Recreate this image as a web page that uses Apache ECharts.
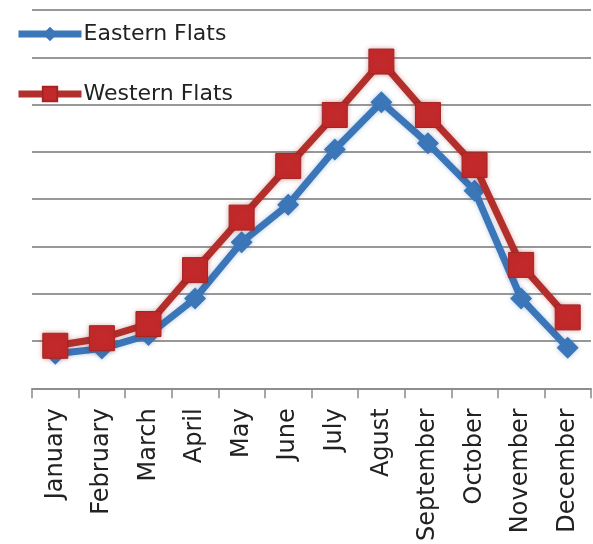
<!DOCTYPE html>
<html>
<head>
<meta charset="utf-8">
<title>Eastern and Western Flats</title>
<script src="https://cdn.jsdelivr.net/npm/echarts@6/dist/echarts.min.js"></script>
<style>
  html, body { margin: 0; padding: 0; background: #ffffff; }
  #chart { width: 593px; height: 544px; }
</style>
</head>
<body>
<div id="chart"></div>
<script>
// Monthly readings for the two flats
const months = ['January', 'February', 'March', 'April', 'May', 'June', 'July',
                'Agust', 'September', 'October', 'November', 'December'];
const easternFlats = [7.3, 8.4, 11.3, 19, 30.9, 38.8, 50.5, 60.5, 51.8, 41.8, 19, 8.6];
const westernFlats = [9, 10.6, 13.6, 25, 36.1, 47, 57.8, 69.1, 57.8, 47.2, 26.1, 15];

const FONT = 'DejaVu Sans';
const BLUE = '#3b76b8';
const RED = '#b32f2c';

const chart = echarts.init(document.getElementById('chart'), null, { renderer: 'canvas' });

chart.setOption({
  backgroundColor: '#ffffff',
  animation: false,
  grid: { left: 32, right: 2, top: 10, bottom: 151, containLabel: false },
  legend: {
    orient: 'vertical',
    left: 15,
    top: 22,
    padding: 0,
    itemWidth: 63,
    itemHeight: 18,
    itemGap: 36,
    lineStyle: { width: 7 },
    textStyle: { fontFamily: FONT, fontSize: 22, color: '#222222', lineHeight: 24, padding: [0, 0, 0, -3] },
    data: ['Eastern Flats', 'Western Flats']
  },
  xAxis: {
    type: 'category',
    data: months,
    boundaryGap: true,
    axisLine: { show: true, lineStyle: { color: '#8a8a8a', width: 1.5 } },
    axisTick: { show: true, length: 10, lineStyle: { color: '#8a8a8a', width: 1.5 } },
    axisLabel: {
      rotate: 90,
      margin: 20,
      interval: 0,
      fontFamily: FONT,
      fontSize: 24,
      color: '#222222'
    },
    splitLine: { show: false }
  },
  yAxis: {
    type: 'value',
    min: 0,
    max: 80,
    interval: 10,
    axisLine: { show: false },
    axisTick: { show: false },
    axisLabel: { show: false },
    splitLine: { show: true, lineStyle: { color: '#767676', width: 1.5 } }
  },
  series: [
    {
      name: 'Eastern Flats',
      type: 'line',
      data: easternFlats,
      symbol: 'diamond',
      symbolSize: 22,
      lineStyle: { color: BLUE, width: 7, shadowColor: 'rgba(60,110,180,0.35)', shadowBlur: 5 },
      itemStyle: { color: BLUE, shadowColor: 'rgba(60,110,180,0.4)', shadowBlur: 5 },
      z: 2
    },
    {
      name: 'Western Flats',
      type: 'line',
      data: westernFlats,
      symbol: 'rect',
      symbolSize: 25,
      lineStyle: { color: RED, width: 7, shadowColor: 'rgba(150,40,40,0.35)', shadowBlur: 5 },
      itemStyle: { color: '#c2292a', borderColor: '#a52525', borderWidth: 1, shadowColor: 'rgba(150,40,40,0.4)', shadowBlur: 5 },
      z: 3
    }
  ]
});
</script>
</body>
</html>
